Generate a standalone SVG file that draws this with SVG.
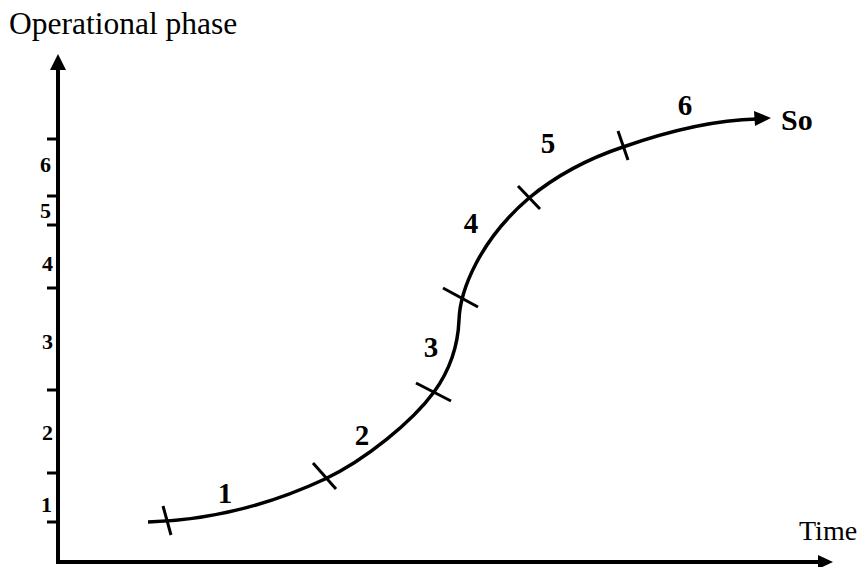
<svg xmlns="http://www.w3.org/2000/svg" width="864" height="567" viewBox="0 0 864 567">
<style>
.ax{stroke:#000;stroke-width:4;fill:none}
.tk{stroke:#000;stroke-width:3;fill:none}
.cv{stroke:#000;stroke-width:3.5;fill:none}
.lab{font-family:"Liberation Serif","Times New Roman",serif;fill:#000}
.b{font-weight:bold}
</style>
<rect width="864" height="567" fill="#fff"/>
<g id="axes">
<line class="ax" x1="58" y1="564" x2="58" y2="68"/>
<polygon points="58,54 50,70 66,70" fill="#000"/>
<line class="ax" x1="56" y1="562" x2="820" y2="562"/>
<polygon points="833,562 818,555 818,569" fill="#000"/>
<g class="tk">
<line x1="47" y1="139" x2="58" y2="139"/>
<line x1="47" y1="196" x2="58" y2="196"/>
<line x1="47" y1="225" x2="58" y2="225"/>
<line x1="47" y1="288" x2="58" y2="288"/>
<line x1="47" y1="390" x2="58" y2="390"/>
<line x1="47" y1="473" x2="58" y2="473"/>
<line x1="47" y1="522" x2="58" y2="522"/>
</g>
<text class="lab" x="9" y="34" font-size="31.5">Operational phase</text>
<text class="lab" x="799" y="540" font-size="28">Time</text>
<g class="lab b" font-size="22" text-anchor="end">
<text x="51" y="172">6</text>
<text x="51" y="218">5</text>
<text x="53" y="271">4</text>
<text x="53" y="349">3</text>
<text x="53" y="440">2</text>
<text x="52" y="512">1</text>
</g>
</g>
<g id="connectors">
<path class="cv" d="M148,522 C220,520 280,500 325,479 C365,460 412,422 434,392 C450,370 458,345 459,320 C460,290 480,240 529,198 C558,174 590,158 623,147 C660,134 710,120 757,119"/>
<polygon points="771,118 754,111 755,126" fill="#000"/>
</g>
<g id="ticks" class="tk">
<line x1="163" y1="506" x2="171" y2="535"/>
<line x1="313" y1="463" x2="336" y2="489"/>
<line x1="416" y1="383" x2="451" y2="401"/>
<line x1="443" y1="288" x2="478" y2="307"/>
<line x1="518" y1="186" x2="540" y2="209"/>
<line x1="618" y1="131" x2="628" y2="160"/>
</g>
<g id="labels" class="lab b" font-size="29" text-anchor="middle">
<text x="225" y="503">1</text>
<text x="362" y="445">2</text>
<text x="431" y="357">3</text>
<text x="471" y="233">4</text>
<text x="548" y="153">5</text>
<text x="685" y="115">6</text>
</g>
<g id="so">
<text class="lab b" x="781" y="130" font-size="30">So</text>
</g>
</svg>
